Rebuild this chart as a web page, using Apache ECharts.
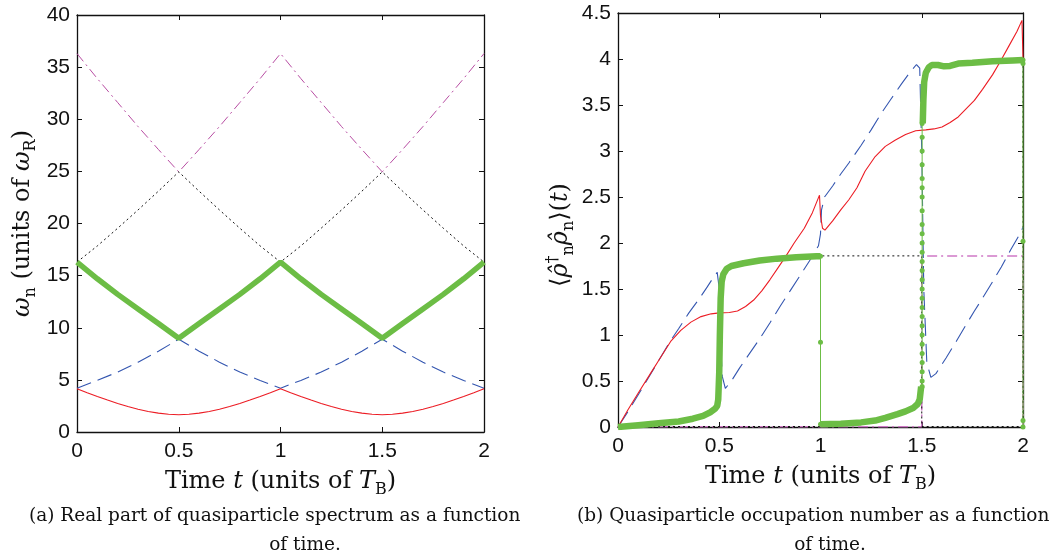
<!DOCTYPE html>
<html>
<head>
<meta charset="utf-8">
<script src="https://cdn.jsdelivr.net/npm/echarts@6/dist/echarts.min.js"></script>
<style>
  html, body { margin: 0; padding: 0; background: #fff; }
  #chart { width: 1056px; height: 558px; }
</style>
</head>
<body>
<div id="chart"></div>
<script>
// ---------- Data: panel (a) spectrum ----------
const tFine = [0,0.05,0.1,0.15,0.2,0.25,0.3,0.35,0.4,0.45,0.5,0.55,0.6,0.65,0.7,0.75,0.8,0.85,0.9,0.95,1.0,
               1.05,1.1,1.15,1.2,1.25,1.3,1.35,1.4,1.45,1.5,1.55,1.6,1.65,1.7,1.75,1.8,1.85,1.9,1.95,2.0];
const redA = [4.15,3.77,3.41,3.06,2.74,2.44,2.18,1.97,1.81,1.70,1.65,1.70,1.81,1.97,2.18,2.44,2.74,3.06,3.41,3.77,4.15,
              3.77,3.41,3.06,2.74,2.44,2.18,1.97,1.81,1.70,1.65,1.70,1.81,1.97,2.18,2.44,2.74,3.06,3.41,3.77,4.15];
const tCoarse = [0,0.1,0.2,0.3,0.4,0.5,0.6,0.7,0.8,0.9,1.0,1.1,1.2,1.3,1.4,1.5,1.6,1.7,1.8,1.9,2.0];
const blueA = [4.2,4.95,5.75,6.7,7.75,8.9,7.75,6.7,5.75,4.95,4.2,4.95,5.75,6.7,7.75,8.9,7.75,6.7,5.75,4.95,4.2];
const greenA = [16.3,14.7,13.2,11.8,10.4,9.0,10.4,11.8,13.2,14.7,16.3,14.7,13.2,11.8,10.4,9.0,10.4,11.8,13.2,14.7,16.3];
const blackA = [16.3,17.85,19.55,21.3,23.1,24.95,23.1,21.3,19.55,17.85,16.3,17.85,19.55,21.3,23.1,24.95,23.1,21.3,19.55,17.85,16.3];
const magentaA = [36.3,33.9,31.6,29.3,27.1,24.95,27.1,29.3,31.6,33.9,36.3,33.9,31.6,29.3,27.1,24.95,27.1,29.3,31.6,33.9,36.3];

// ---------- Data: panel (b) occupation numbers ([t, value]) ----------
const redB = [[0,0],[0.05,0.19],[0.1,0.37],[0.16,0.58],[0.2,0.72],[0.26,0.93],[0.31,1.05],[0.36,1.14],[0.41,1.2],[0.46,1.23],
  [0.5,1.24],[0.55,1.245],[0.59,1.26],[0.63,1.31],[0.67,1.38],[0.71,1.48],[0.75,1.6],[0.79,1.73],[0.83,1.86],[0.87,2.0],
  [0.92,2.16],[0.96,2.33],[0.995,2.52],[1.0,2.3],[1.01,2.16],[1.022,2.14],[1.06,2.24],[1.1,2.36],[1.14,2.47],[1.18,2.6],
  [1.22,2.78],[1.27,2.94],[1.32,3.05],[1.37,3.12],[1.42,3.18],[1.47,3.22],[1.52,3.23],[1.56,3.24],[1.6,3.26],[1.64,3.31],
  [1.68,3.37],[1.72,3.46],[1.76,3.55],[1.8,3.67],[1.85,3.83],[1.89,3.98],[1.93,4.14],[1.97,4.3],[1.995,4.42],[2.0,4.0]];
const blueB = [[0,0],[0.05,0.17],[0.1,0.35],[0.16,0.57],[0.2,0.72],[0.26,0.94],[0.3,1.07],[0.35,1.24],[0.4,1.39],[0.44,1.52],
  [0.475,1.64],[0.49,1.68],[0.5,1.5],[0.505,1.0],[0.515,0.55],[0.53,0.42],[0.56,0.5],[0.6,0.64],[0.65,0.8],[0.7,0.96],
  [0.75,1.13],[0.8,1.31],[0.85,1.48],[0.9,1.65],[0.95,1.82],[0.99,1.97],[1.0,2.1],[1.005,2.36],[1.02,2.5],[1.06,2.62],
  [1.1,2.75],[1.14,2.87],[1.2,3.06],[1.25,3.23],[1.3,3.41],[1.35,3.57],[1.4,3.73],[1.44,3.85],[1.474,3.94],[1.49,3.9],
  [1.5,3.0],[1.51,1.5],[1.525,0.7],[1.545,0.54],[1.57,0.58],[1.62,0.75],[1.67,0.93],[1.713,1.09],[1.76,1.26],[1.8,1.4],
  [1.85,1.58],[1.893,1.74],[1.94,1.93],[1.98,2.08],[2.0,2.17]];
const greenThickB1 = [[0,0],[0.1,0.02],[0.2,0.04],[0.3,0.06],[0.37,0.09],[0.42,0.12],[0.455,0.16],[0.48,0.2],[0.49,0.23],
  [0.495,0.3],[0.5,0.6],[0.503,1.0],[0.507,1.4],[0.512,1.58],[0.52,1.66],[0.537,1.72],[0.56,1.75],[0.62,1.78],[0.7,1.81],
  [0.785,1.83],[0.88,1.845],[0.98,1.855],[1.0,1.855]];
const greenThickB2 = [[1.0,0.03],[1.1,0.035],[1.2,0.05],[1.27,0.07],[1.32,0.1],[1.38,0.14],[1.42,0.17],[1.46,0.21],
  [1.48,0.25],[1.49,0.3],[1.497,0.44]];
const greenThickB3 = [[1.505,3.3],[1.508,3.55],[1.512,3.75],[1.52,3.85],[1.535,3.91],[1.55,3.935],[1.58,3.935],[1.61,3.92],
  [1.64,3.925],[1.68,3.95],[1.75,3.96],[1.85,3.975],[1.95,3.985],[2.0,3.99]];
const greenJumpT1 = [[1.0,1.855],[1.0,0.92],[1.0,0.03]];
const greenJumpT15 = [[1.502,0.44],[1.502,0.5],[1.502,0.6],[1.502,0.7],[1.502,0.8],[1.502,0.9],[1.502,1.0],[1.502,1.1],
  [1.502,1.2],[1.502,1.3],[1.502,1.4],[1.502,1.5],[1.502,1.6],[1.502,1.7],[1.502,1.8],[1.502,1.9],[1.502,2.0],[1.502,2.1],
  [1.502,2.2],[1.502,2.35],[1.502,2.5],[1.502,2.6],[1.502,2.7],[1.502,2.85],[1.502,3.0],[1.502,3.15],[1.502,3.3]];
const greenJumpT2 = [[2.0,3.99],[2.0,3.95],[2.0,2.02],[2.0,0.07],[2.0,0]];
const blackB = [[0,0.005],[1.0,0.005],[1.0,1.86],[1.5,1.86],[1.5,0.005],[2.0,0.005],[2.0,4.0]];
const magentaB = [[0,0.003],[1.5,0.003],[1.5,1.86],[2.0,1.86],[2.0,0]];

const xTicks = { min: 0, max: 2, interval: 0.5 };
const yTicksA = { min: 0, max: 40, interval: 5 };
const yTicksB = { min: 0, max: 4.5, interval: 0.5 };

// ---------- Styling ----------
const SANS = '"Liberation Sans", Arial, sans-serif';
const SERIF = '"DejaVu Serif", "Liberation Serif", serif';
const C_RED = '#ec1c24', C_BLUE = '#3456b0', C_GREEN = '#6cbd45', C_BLACK = '#111', C_MAG = '#b84da3', C_MAG2 = '#cf78c6';

const axisLine = { show: true, onZero: false, lineStyle: { color: '#111', width: 1.3 } };
const tickIn = { show: true, inside: true, length: 5, lineStyle: { color: '#111', width: 1 } };
const lbl = { color: '#111', fontFamily: SANS, fontSize: 21 };

const FS = 24;
const titleRich = {
  i: { fontFamily: SERIF, fontStyle: 'italic', fontSize: FS, lineHeight: 32, verticalAlign: 'middle', color: '#111' },
  n: { fontFamily: SERIF, fontSize: FS, lineHeight: 32, verticalAlign: 'middle', color: '#111' },
  sub: { fontFamily: SERIF, fontSize: 16, lineHeight: 16, verticalAlign: 'bottom', color: '#111' },
  sup: { fontFamily: SERIF, fontSize: 16, lineHeight: 16, verticalAlign: 'top', color: '#111' }
};

function mkX(grid) {
  return [
    Object.assign({ type: 'value', gridIndex: grid, position: 'bottom',
      axisLine, axisTick: tickIn, splitLine: { show: false },
      axisLabel: Object.assign({ margin: 9 }, lbl),
      name: '{n|Time }{i|t}{n| (units of }{i|T}{sub|B}{n|)}', nameLocation: 'middle', nameGap: 34,
      nameTextStyle: { color: '#111', rich: titleRich } }, xTicks),
    Object.assign({ type: 'value', gridIndex: grid, position: 'top',
      axisLine, axisTick: tickIn, splitLine: { show: false }, axisLabel: { show: false } }, xTicks)
  ];
}
function mkY(grid, ticks, name, gap) {
  return [
    Object.assign({ type: 'value', gridIndex: grid, position: 'left',
      axisLine, axisTick: tickIn, splitLine: { show: false },
      axisLabel: Object.assign({ margin: 7 }, lbl),
      name: name, nameLocation: 'middle', nameGap: gap, nameRotate: 90,
      nameTextStyle: { color: '#111', rich: titleRich } }, ticks),
    Object.assign({ type: 'value', gridIndex: grid, position: 'right',
      axisLine, axisTick: tickIn, splitLine: { show: false }, axisLabel: { show: false } }, ticks)
  ];
}

const zipT = (ts, vs) => ts.map((t, k) => [t, vs[k]]);
function line(x, y, data, color, width, type, extra) {
  return Object.assign({ type: 'line', xAxisIndex: x, yAxisIndex: y, data: data, showSymbol: false, symbol: 'none',
    lineStyle: { color: color, width: width, type: type || 'solid' }, itemStyle: { color: color },
    animation: false, silent: true, z: 2 }, extra || {});
}
function dotted(x, y, data, color) {
  return line(x, y, data, color, 1, 'solid', { symbol: 'circle', showSymbol: true, symbolSize: 5, z: 4 });
}

const series = [
  // panel (a)
  line(0, 0, zipT(tCoarse, magentaA), C_MAG, 1, [10, 4, 2, 4]),
  line(0, 0, zipT(tCoarse, blackA), C_BLACK, 1, [2, 3]),
  line(0, 0, zipT(tCoarse, blueA), C_BLUE, 1.1, [15, 7]),
  line(0, 0, zipT(tFine, redA), C_RED, 1.1),
  line(0, 0, zipT(tCoarse, greenA), C_GREEN, 5.5, 'solid', { z: 3 }),
  // panel (b)
  line(2, 2, magentaB, C_MAG2, 1.5, [10, 4, 2, 4]),
  line(2, 2, blackB, C_BLACK, 1, [2, 3]),
  line(2, 2, blueB, C_BLUE, 1.1, [18, 8]),
  line(2, 2, redB, C_RED, 1.1),
  line(2, 2, greenThickB1, C_GREEN, 6.5, 'solid', { z: 3 }),
  line(2, 2, greenThickB2, C_GREEN, 6.5, 'solid', { z: 3 }),
  line(2, 2, greenThickB3, C_GREEN, 6.5, 'solid', { z: 3 }),
  dotted(2, 2, greenJumpT1, C_GREEN),
  dotted(2, 2, greenJumpT15, C_GREEN),
  dotted(2, 2, greenJumpT2, C_GREEN)
];

const capStyle = { fill: '#111', font: '18.5px ' + SERIF };
const chart = echarts.init(document.getElementById('chart'), null, { renderer: 'canvas' });
chart.setOption({
  backgroundColor: '#fff',
  animation: false,
  grid: [
    { left: 77, top: 15, width: 407, height: 417, containLabel: false },
    { left: 618, top: 13, width: 405, height: 414, containLabel: false }
  ],
  xAxis: [].concat(mkX(0), mkX(1)),
  yAxis: [].concat(
    mkY(0, yTicksA, '{i|ω}{sub|n}{n| (units of }{i|ω}{sub|R}{n|)}', 38),
    mkY(1, yTicksB, '', 44)
  ),
  series: series,
  graphic: [
    { type: 'text', x: 561, y: 235, rotation: Math.PI / 2,
      style: { text: '{n|⟨}{i|ρ̂}{sup|†}{sub|n}{i|ρ̂}{sub|n}{n|⟩(}{i|t}{n|)}', rich: titleRich,
               align: 'center', verticalAlign: 'middle', fill: '#111' } },
    { type: 'text', left: 29, top: 507, style: Object.assign({ text: '(a) Real part of quasiparticle spectrum as a function' }, capStyle) },
    { type: 'text', x: 305, y: 545, style: Object.assign({ text: 'of time.', align: 'center', verticalAlign: 'middle' }, capStyle) },
    { type: 'text', left: 577, top: 507, style: Object.assign({ text: '(b) Quasiparticle occupation number as a function' }, capStyle) },
    { type: 'text', x: 830, y: 545, style: Object.assign({ text: 'of time.', align: 'center', verticalAlign: 'middle' }, capStyle) }
  ]
});
</script>
</body>
</html>
